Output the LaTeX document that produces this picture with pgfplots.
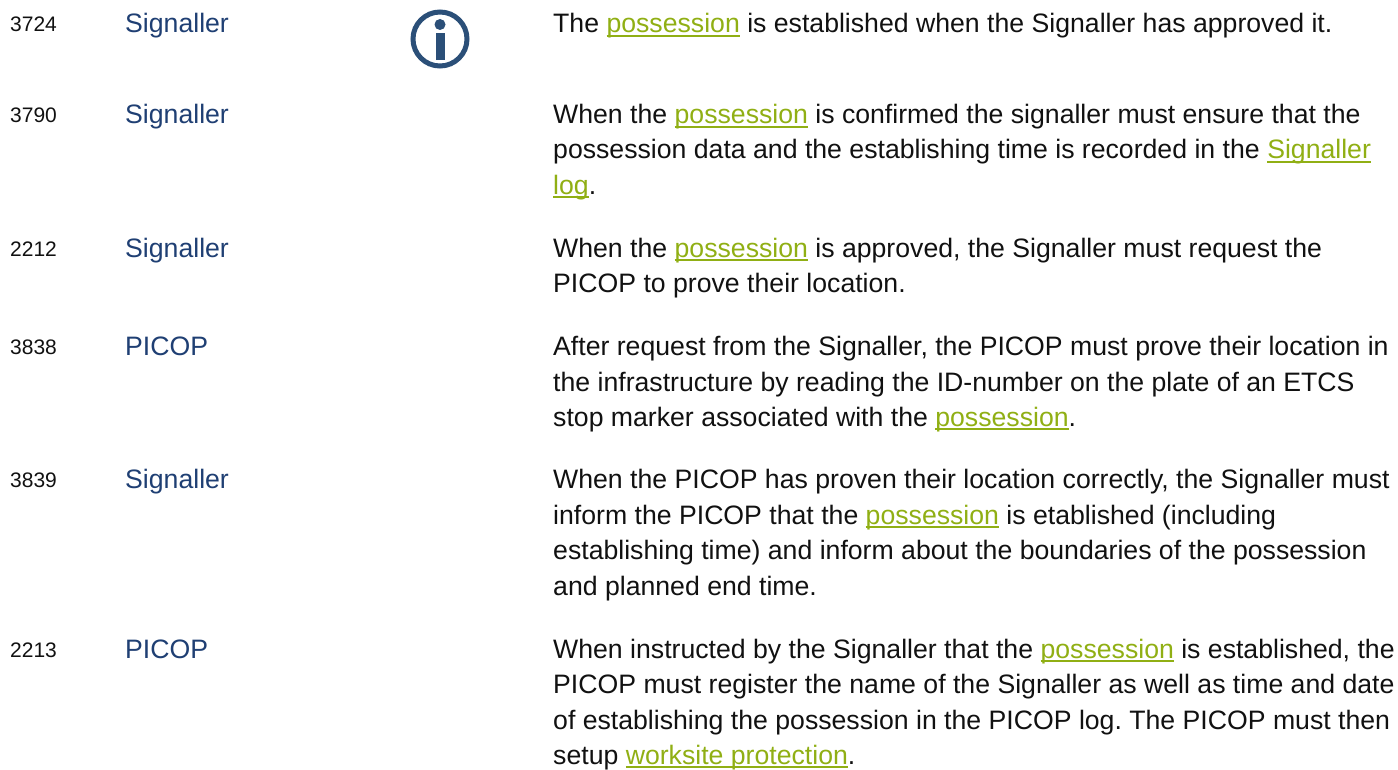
\documentclass[border=0pt]{standalone}
\usepackage{pgfplots}
\pgfplotsset{compat=1.18}
\usepackage{fontspec}
\setmainfont{Liberation Sans}
\frenchspacing
\definecolor{idc}{HTML}{111111}
\definecolor{rolec}{HTML}{1F3F73}
\definecolor{linkc}{HTML}{90AF14}
\definecolor{bodyc}{HTML}{111111}
\definecolor{iconc}{HTML}{2B4F78}
\newcommand{\lk}[1]{{\color{linkc}\setbox0\hbox{#1}\rlap{\rule[-4pt]{\wd0}{2pt}}\box0}}
\newcommand{\bodyfont}{\fontsize{26.65}{30}\selectfont}
\begin{document}
\begin{tikzpicture}[
  idn/.style={anchor=base west,inner sep=0pt,text=idc,font=\fontsize{21}{24}\selectfont},
  rl/.style={anchor=base west,inner sep=0pt,text=rolec,font=\bodyfont},
  tx/.style={anchor=base west,inner sep=0pt,text=bodyc,font=\bodyfont}]
\begin{axis}[at={(0pt,0pt)},anchor=south west,scale only axis,width=1398pt,height=769pt,
  xmin=0,xmax=1398,ymin=0,ymax=769,y dir=reverse,axis lines=none,clip=false]
\addplot[draw=none,forget plot] coordinates {(0,0) (1398,769)};
\node[idn] at (axis cs:10,32) {3724};
\node[rl] at (axis cs:125,33) {Signaller};
\node[tx] at (axis cs:553,33) {The \lk{possession} is established when the Signaller has approved it.};
\node[idn] at (axis cs:10,123) {3790};
\node[rl] at (axis cs:125,124) {Signaller};
\node[tx] at (axis cs:553,124) {When the \lk{possession} is confirmed the signaller must ensure that the};
\node[tx] at (axis cs:553,159) {possession data and the establishing time is recorded in the \lk{Signaller}};
\node[tx] at (axis cs:553,194.4) {\lk{log}.};
\node[idn] at (axis cs:10,256.4) {2212};
\node[rl] at (axis cs:125,257.4) {Signaller};
\node[tx] at (axis cs:553,257.4) {When the \lk{possession} is approved, the Signaller must request the};
\node[tx] at (axis cs:553,292.4) {PICOP to prove their location.};
\node[idn] at (axis cs:10,354.4) {3838};
\node[rl] at (axis cs:125,355.4) {PICOP};
\node[tx] at (axis cs:553,355.4) {After request from the Signaller, the PICOP must prove their location in};
\node[tx] at (axis cs:553,391.4) {the infrastructure by reading the ID-number on the plate of an ETCS};
\node[tx] at (axis cs:553,426.4) {stop marker associated with the \lk{possession}.};
\node[idn] at (axis cs:10,487.4) {3839};
\node[rl] at (axis cs:125,488.4) {Signaller};
\node[tx] at (axis cs:553,488.4) {When the PICOP has proven their location correctly, the Signaller must};
\node[tx] at (axis cs:553,524.4) {inform the PICOP that the \lk{possession} is etablished (including};
\node[tx] at (axis cs:553,559.4) {establishing time) and inform about the boundaries of the possession};
\node[tx] at (axis cs:553,595.4) {and planned end time.};
\node[idn] at (axis cs:10,657.4) {2213};
\node[rl] at (axis cs:125,658.4) {PICOP};
\node[tx] at (axis cs:553,658.4) {When instructed by the Signaller that the \lk{possession} is established, the};
\node[tx] at (axis cs:553,693.4) {PICOP must register the name of the Signaller as well as time and date};
\node[tx] at (axis cs:553,729.4) {of establishing the possession in the PICOP log. The PICOP must then};
\node[tx] at (axis cs:553,764.4) {setup \lk{worksite protection}.};
% info icon
\draw[iconc,line width=5pt] (axis cs:440,39) circle[radius=27pt];
\fill[iconc] (axis cs:440,24.5) circle[radius=5.5pt];
\fill[iconc] (axis cs:435.5,33) rectangle (axis cs:444.5,60);
\end{axis}
\end{tikzpicture}
\end{document}
